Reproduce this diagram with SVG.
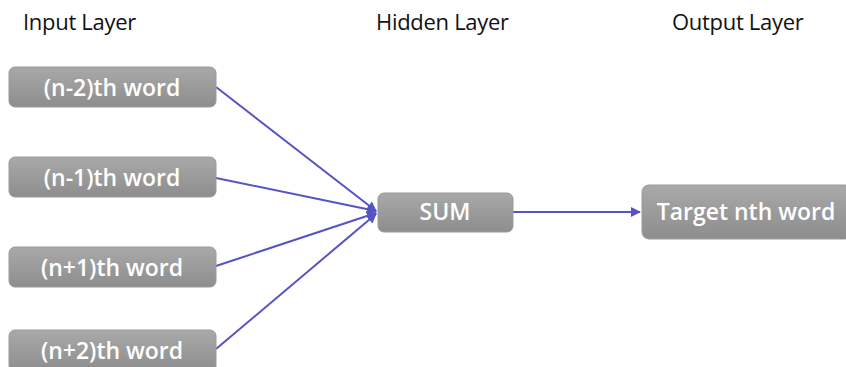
<svg xmlns="http://www.w3.org/2000/svg" width="846" height="367" viewBox="0 0 846 367">
  <defs>
    <linearGradient id="boxFill" x1="0" y1="0" x2="0" y2="1">
      <stop offset="0" stop-color="#a9a9a9"/>
      <stop offset="1" stop-color="#8d8d8d"/>
    </linearGradient>
    <marker id="arrow" viewBox="0 0 10 10" refX="9" refY="5" markerWidth="5" markerHeight="5" orient="auto" markerUnits="strokeWidth">
      <path d="M0,0 L10,5 L0,10 Z" fill="#5454c4"/>
    </marker>
  </defs>
  <style>
    .hdr { font-family: "Open Sans", "Liberation Sans", sans-serif; font-size: 22px; fill: #111; letter-spacing: -0.3px; }
    .box { fill: url(#boxFill); stroke: #9a9a9a; stroke-width: 1; }
    .lbl { font-family: "Open Sans", "Liberation Sans", sans-serif; font-size: 23px; font-weight: 600; fill: #ffffff; text-anchor: middle; }
    .conn { stroke: #5454c4; stroke-width: 2; fill: none; marker-end: url(#arrow); }
  </style>
  <rect width="846" height="367" fill="#ffffff"/>

  <text class="hdr" x="23" y="30">Input Layer</text>
  <text class="hdr" x="376" y="30">Hidden Layer</text>
  <text class="hdr" x="672" y="30">Output Layer</text>

  <g id="connectors">
    <line class="conn" x1="216" y1="87" x2="376" y2="211"/>
    <line class="conn" x1="216" y1="178" x2="376" y2="211"/>
    <line class="conn" x1="216" y1="266" x2="376" y2="213"/>
    <line class="conn" x1="216" y1="349" x2="376" y2="214"/>
    <line class="conn" x1="513" y1="212" x2="640" y2="212"/>
  </g>

  <g id="w_n2">
    <rect class="box" x="9" y="67" width="207" height="40" rx="6"/>
    <text class="lbl" x="112" y="96">(n-2)th word</text>
  </g>
  <g id="w_n1">
    <rect class="box" x="9" y="157" width="207" height="40" rx="6"/>
    <text class="lbl" x="112" y="186">(n-1)th word</text>
  </g>
  <g id="w_p1">
    <rect class="box" x="9" y="247" width="207" height="40" rx="6"/>
    <text class="lbl" x="112" y="276">(n+1)th word</text>
  </g>
  <g id="w_p2">
    <rect class="box" x="9" y="330" width="207" height="42" rx="6"/>
    <text class="lbl" x="112" y="359">(n+2)th word</text>
  </g>
  <g id="sum">
    <rect class="box" x="378" y="193" width="135" height="39" rx="6"/>
    <text class="lbl" x="445" y="220">SUM</text>
  </g>
  <g id="target">
    <rect class="box" x="642" y="185" width="210" height="54" rx="7"/>
    <text class="lbl" x="746" y="220">Target nth word</text>
  </g>
</svg>
